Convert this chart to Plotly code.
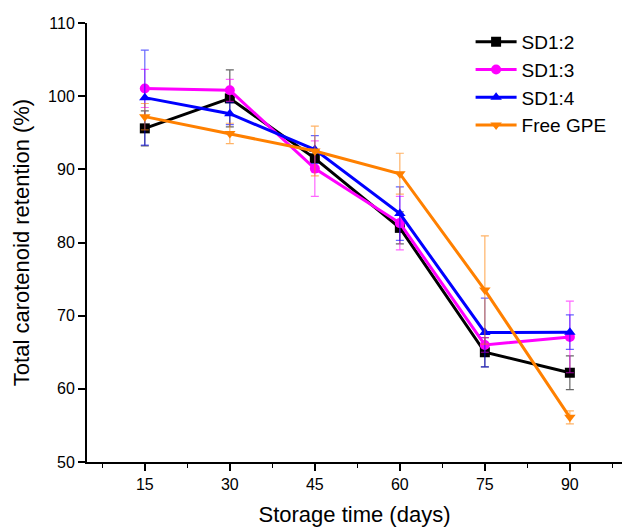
import plotly.graph_objects as go

# Storage time points (days)
days = [15, 30, 45, 60, 75, 90]

# Total carotenoid retention (%) and standard deviations for each sample
sd12 = [95.6, 99.7, 91.5, 82.0, 65.0, 62.2]
sd12_err = [2.4, 3.9, 1.2, 2.2, 2.0, 2.3]

sd13 = [101.05, 100.8, 90.1, 82.65, 66.0, 67.1]
sd13_err = [2.6, 1.5, 3.8, 3.65, 1.0, 4.9]

sd14 = [99.8, 97.6, 92.7, 83.95, 67.7, 67.75]
sd14_err = [6.5, 1.5, 1.9, 3.65, 4.7, 2.35]

free_gpe = [97.2, 94.9, 92.5, 89.4, 73.5, 56.1]
free_gpe_err = [1.8, 1.4, 3.4, 2.8, 7.4, 0.9]

y_ticks = [50, 60, 70, 80, 90, 100, 110]
x_ticks = [15, 30, 45, 60, 75, 90]

series = [
    ("SD1:2", sd12, sd12_err, "#000000", "rgba(0,0,0,0.6)", "square"),
    ("SD1:3", sd13, sd13_err, "#FF00FF", "rgba(255,0,255,0.6)", "circle"),
    ("SD1:4", sd14, sd14_err, "#0000FF", "rgba(0,0,255,0.6)", "triangle-up"),
    ("Free GPE", free_gpe, free_gpe_err, "#FF8000", "rgba(255,128,0,0.6)", "triangle-down"),
]

FONT = "Arial, Liberation Sans, sans-serif"

fig = go.Figure()
for name, vals, errs, color, err_color, symbol in series:
    fig.add_trace(go.Scatter(
        x=days, y=vals, name=name, mode="lines+markers",
        line=dict(color=color, width=3),
        marker=dict(symbol=symbol, size=10, color=color),
        error_y=dict(type="data", array=errs, visible=True,
                     color=err_color, thickness=1.2, width=4),
    ))

fig.update_layout(
    width=622, height=529,
    margin=dict(l=87, r=0, t=23, b=67),
    paper_bgcolor="white", plot_bgcolor="white",
    font=dict(family=FONT, size=16, color="black"),
    showlegend=True,
    legend=dict(
        x=0.717, y=1.0, xanchor="left", yanchor="top",
        font=dict(family=FONT, size=19, color="black"),
        bgcolor="rgba(0,0,0,0)", itemwidth=41,
        tracegroupgap=0,
    ),
)

fig.update_xaxes(
    range=[4.8, 99.2], tickvals=x_ticks, ticktext=[str(v) for v in x_ticks],
    showgrid=False, zeroline=False,
    showline=True, linecolor="black", linewidth=2,
    ticks="outside", ticklen=7, tickwidth=2, tickcolor="black",
    tickfont=dict(size=16),
    minor=dict(tick0=7.5, dtick=15, ticks="outside", ticklen=4,
               tickwidth=1, tickcolor="black", showgrid=False),
    title=dict(text="Storage time (days)", font=dict(size=22), standoff=14),
)

fig.update_yaxes(
    range=[50, 110], tickvals=y_ticks, ticktext=[str(v) for v in y_ticks],
    showgrid=False, zeroline=False,
    showline=True, linecolor="black", linewidth=2,
    ticks="outside", ticklen=7, tickwidth=2, tickcolor="black",
    tickfont=dict(size=16),
    title=dict(text="Total carotenoid retention (%)", font=dict(size=22), standoff=12),
)

fig.write_html("out.html")
